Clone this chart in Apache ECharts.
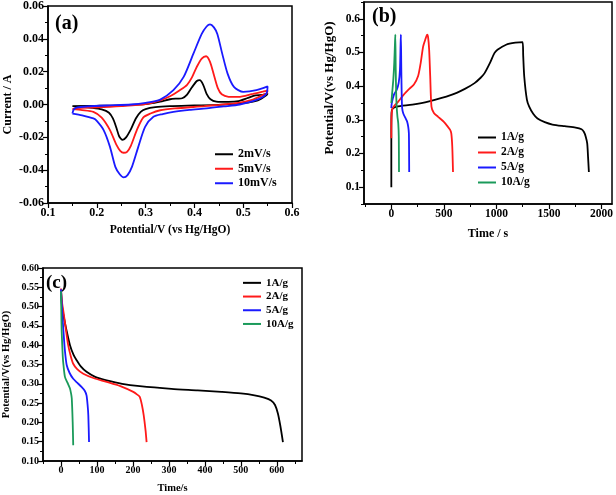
<!DOCTYPE html>
<html><head><meta charset="utf-8">
<script src="https://cdn.jsdelivr.net/npm/echarts@6/dist/echarts.min.js"></script>
<style>html,body{margin:0;padding:0;background:#fff}#c{width:616px;height:495px}</style>
</head><body><div id="c"></div>
<script>
// ---- Panel (a): CV curves [potential V, current A] ----
const cvNames = ['2mV/s', '5mV/s', '10mV/s'];
const cv2 = [[0.15,-0.0010],[0.20,-0.0008],[0.25,-0.0005],[0.30,0.0002],[0.33,0.0018],[0.35,0.0032],[0.365,0.0036],[0.375,0.0038],[0.385,0.0060],[0.395,0.0105],[0.405,0.0143],[0.411,0.0148],[0.418,0.0120],[0.425,0.0065],[0.433,0.0032],[0.445,0.0018],[0.47,0.0016],[0.49,0.0020],[0.51,0.0040],[0.525,0.0055],[0.54,0.0058],[0.55,0.0068],
  [0.548,0.0058],[0.53,0.0025],[0.50,0.0008],[0.45,-0.0002],[0.40,-0.0006],[0.35,-0.0010],[0.32,-0.0016],[0.30,-0.0028],[0.29,-0.0045],[0.28,-0.0085],[0.27,-0.0150],[0.26,-0.0200],[0.253,-0.0215],[0.246,-0.0195],[0.24,-0.0140],[0.233,-0.0085],[0.225,-0.0050],[0.21,-0.0030],[0.19,-0.0020],[0.17,-0.0014],[0.15,-0.0010]];
const cv5 = [[0.15,-0.0028],[0.16,-0.0022],[0.20,-0.0018],[0.25,-0.0010],[0.30,0.0002],[0.33,0.0025],[0.35,0.0050],[0.37,0.0087],[0.385,0.0120],[0.395,0.0165],[0.405,0.0230],[0.415,0.0280],[0.424,0.0294],[0.432,0.0260],[0.44,0.0180],[0.448,0.0100],[0.456,0.0062],[0.47,0.0047],[0.49,0.0046],[0.52,0.0065],[0.54,0.0078],[0.55,0.0085],
  [0.548,0.0068],[0.54,0.0057],[0.52,0.0030],[0.49,0.0010],[0.45,-0.0002],[0.42,-0.0010],[0.36,-0.0024],[0.33,-0.0035],[0.31,-0.0055],[0.295,-0.0080],[0.282,-0.0156],[0.27,-0.0250],[0.262,-0.0288],[0.255,-0.0294],[0.248,-0.0282],[0.24,-0.0245],[0.227,-0.0156],[0.21,-0.0080],[0.193,-0.0045],[0.17,-0.0034],[0.15,-0.0028]];
const cv10 = [[0.15,-0.0055],[0.153,-0.0030],[0.16,-0.0018],[0.18,-0.0012],[0.22,-0.0006],[0.27,0.0000],[0.30,0.0010],[0.33,0.0030],[0.357,0.0087],[0.378,0.0168],[0.398,0.0310],[0.415,0.0430],[0.425,0.0475],[0.432,0.0488],[0.44,0.0470],[0.447,0.0430],[0.457,0.0310],[0.468,0.0188],[0.481,0.0107],[0.50,0.0077],[0.527,0.0087],[0.55,0.0110],
  [0.548,0.0070],[0.54,0.0046],[0.52,0.0020],[0.493,0.0000],[0.46,-0.0012],[0.425,-0.0024],[0.39,-0.0033],[0.357,-0.0045],[0.335,-0.0058],[0.316,-0.0075],[0.299,-0.0136],[0.285,-0.0258],[0.272,-0.0380],[0.263,-0.0430],[0.255,-0.0444],[0.247,-0.0425],[0.238,-0.0380],[0.227,-0.0258],[0.214,-0.0156],[0.20,-0.0100],[0.193,-0.0085],[0.17,-0.0066],[0.15,-0.0055]];

// ---- Panel (b): GCD curves [time s, potential V] ----
const gcdNames = ['1A/g', '2A/g', '5A/g', '10A/g'];
const gcd1 = [[0,0.10],[0,0.25],[2,0.32],[10,0.332],[51,0.339],[200,0.345],[350,0.354],[571,0.374],[700,0.392],[792,0.409],[850,0.425],[886,0.438],[940,0.47],[981,0.498],[1010,0.508],[1092,0.523],[1180,0.529],[1249,0.531],[1255,0.49],[1265,0.428],[1290,0.36],[1312,0.339],[1350,0.318],[1391,0.304],[1460,0.293],[1533,0.286],[1650,0.281],[1754,0.277],[1810,0.272],[1833,0.264],[1850,0.25],[1864,0.23],[1872,0.19],[1880,0.145]];
const gcd2 = [[0,0.245],[2,0.31],[10,0.333],[30,0.342],[66,0.354],[110,0.372],[161,0.389],[215,0.405],[255,0.43],[280,0.47],[303,0.518],[325,0.54],[341,0.553],[350,0.545],[360,0.508],[370,0.43],[382,0.339],[405,0.32],[445,0.309],[500,0.294],[539,0.279],[560,0.27],[571,0.259],[580,0.22],[587,0.145]];
const gcd5 = [[0,0.335],[4,0.349],[25,0.375],[51,0.389],[70,0.41],[82,0.448],[88,0.52],[91,0.553],[95,0.45],[99,0.37],[103,0.335],[114,0.319],[135,0.305],[150,0.295],[161,0.279],[167,0.26],[169,0.2],[170,0.145]];
const gcd10 = [[0,0.35],[8,0.38],[19,0.42],[28,0.47],[35,0.53],[38,0.553],[42,0.45],[46,0.38],[51,0.339],[58,0.31],[66,0.289],[71,0.25],[73,0.145]];

// ---- Panel (c): discharge curves [time s, potential V] ----
const dis1 = [[0,0.542],[3,0.50],[7,0.477],[15,0.44],[25,0.40],[35,0.375],[43.5,0.361],[55,0.345],[71,0.331],[95,0.318],[127,0.309],[170,0.300],[219,0.294],[307,0.287],[380,0.283],[446,0.279],[500,0.275],[538,0.270],[565,0.264],[584,0.257],[595,0.245],[603,0.223],[610,0.19],[617,0.149]];
const dis2 = [[0,0.547],[3,0.51],[7,0.486],[13,0.445],[20,0.40],[27,0.372],[34,0.352],[45,0.338],[62,0.326],[90,0.315],[127,0.305],[165,0.294],[201,0.279],[212,0.272],[219,0.266],[225,0.245],[230,0.218],[235,0.18],[238,0.149]];
const dis5 = [[0,0.545],[3,0.49],[7,0.434],[11,0.385],[16,0.348],[24,0.328],[34,0.313],[45,0.303],[57,0.292],[66,0.282],[71,0.270],[74,0.245],[76,0.218],[78,0.149]];
const dis10 = [[0,0.54],[1,0.48],[2,0.434],[5,0.37],[7,0.348],[11,0.318],[18,0.303],[25,0.288],[28,0.275],[30,0.262],[32.5,0.201],[34,0.141]];

// ---- tick labels ----
const aXTicks = [0.1,0.2,0.3,0.4,0.5,0.6];
const aYTicks = [-0.06,-0.04,-0.02,0,0.02,0.04,0.06];
const bXTicks = [0,500,1000,1500,2000];
const bYTicks = [0.1,0.2,0.3,0.4,0.5,0.6];
const cXTicks = [0,100,200,300,400,500,600];
const cYTicks = [0.10,0.15,0.20,0.25,0.30,0.35,0.40,0.45,0.50,0.55,0.60];

const colors = ['#000000','#ff1a1a','#1a1aff','#1a9a5a'];
const FF = '"Liberation Serif", "Times New Roman", serif';

function mids(t){const r=[];for(let i=0;i<t.length-1;i++)r.push(+((t[i]+t[i+1])/2).toFixed(6));return r;}

function axisPair(dim, grid, min, max, majors, minors, fmt, name, nameGap, fs, ns, namePad){
  const main = {
    type:'value', gridIndex:grid, min:min, max:max,
    position: dim==='x'?'bottom':'left',
    axisLine:{show:true,onZero:false,lineStyle:{color:'#000',width:1.5}},
    axisTick:{show:true,inside:false,length:5,customValues:majors,lineStyle:{color:'#000',width:1.2}},
    axisLabel:{customValues:majors,formatter:fmt,color:'#000',fontFamily:FF,fontWeight:'bold',fontSize:fs,margin:4},
    splitLine:{show:false},
    name:name, nameLocation:'middle', nameGap:nameGap,
    nameTextStyle:{color:'#000',fontFamily:FF,fontWeight:'bold',fontSize:ns,padding:namePad||0}
  };
  const minor = {
    type:'value', gridIndex:grid, min:min, max:max,
    position: dim==='x'?'bottom':'left',
    axisLine:{show:false,onZero:false},
    axisTick:{show:true,inside:false,length:3,customValues:minors,lineStyle:{color:'#000',width:1}},
    axisLabel:{show:false}, splitLine:{show:false}
  };
  return [main, minor];
}

const xAxes = [].concat(
  axisPair('x',0,0.1,0.6,aXTicks,mids(aXTicks),v=>v.toFixed(1),'Potential/V (vs Hg/HgO)',21,12,11.5),
  axisPair('x',1,-260,2100,bXTicks,[-250,250,750,1250,1750],v=>String(Math.round(v)),'Time / s',24,11.5,12),
  axisPair('x',2,-50,670,cXTicks,[-50,50,150,250,350,450,550,650],v=>String(Math.round(v)),'Time/s',22,10,10.5)
);
const yAxes = [].concat(
  axisPair('y',0,-0.06,0.06,aYTicks,mids(aYTicks),v=>v.toFixed(2),'Current / A',34,12,12),
  axisPair('y',1,0.05,0.65,bYTicks,[0.05,0.15,0.25,0.35,0.45,0.55,0.65],v=>v.toFixed(1),'Potential/V(vs Hg/HgO)',28,11.5,13,[0,0,0,30]),
  axisPair('y',2,0.1,0.6,cYTicks,mids(cYTicks),v=>v.toFixed(2),'Potential/V(vs Hg/HgO)',31,10,10.5)
);

function ser(name, data, ci, axi){
  return {type:'line', name:name, data:data, xAxisIndex:axi, yAxisIndex:axi, showSymbol:false, symbol:'none',
    smooth:0.25, lineStyle:{color:colors[ci],width:1.8}, itemStyle:{color:colors[ci]}, silent:true, animation:false};
}

const series = [
  ser(cvNames[0],cv2,0,0), ser(cvNames[1],cv5,1,0), ser(cvNames[2],cv10,2,0),
  ser(gcdNames[0],gcd1,0,2), ser(gcdNames[1],gcd2,1,2), ser(gcdNames[2],gcd5,2,2), ser(gcdNames[3],gcd10,3,2),
  ser(gcdNames[0],dis1,0,4), ser(gcdNames[1],dis2,1,4), ser(gcdNames[2],dis5,2,4), ser(gcdNames[3],dis10,3,4)
];

function leg(data,left,top,lh,fs){
  return {data:data,left:left,top:top,padding:0,orient:'vertical',itemWidth:18,itemHeight:2,itemGap:0,icon:'rect',
    selectedMode:false,textStyle:{color:'#000',fontFamily:FF,fontWeight:'bold',fontSize:fs,lineHeight:lh}};
}

const chart = echarts.init(document.getElementById('c'));
chart.setOption({
  animation:false,
  backgroundColor:'#fff',
  grid:[
    {left:48,top:6,width:244,height:197,show:true,borderColor:'#000',borderWidth:1.5,backgroundColor:'transparent'},
    {left:364,top:2,width:249,height:202,show:true,borderColor:'#000',borderWidth:1.5,backgroundColor:'transparent'},
    {left:42,top:268,width:260,height:193,show:true,borderColor:'#000',borderWidth:1.5,backgroundColor:'transparent'}
  ],
  xAxis:xAxes, yAxis:yAxes,
  legend:[
    leg(cvNames,215,147,14.5,12),
    leg(gcdNames,478,130,15,11.5),
    leg(gcdNames,243,276,13.7,11)
  ],
  graphic:[
    {type:'text',left:55,top:14,style:{text:'(a)',font:'bold 20px '+FF,fill:'#000'}},
    {type:'text',left:372,top:7,style:{text:'(b)',font:'bold 20px '+FF,fill:'#000'}},
    {type:'text',left:46,top:274,style:{text:'(c)',font:'bold 19px '+FF,fill:'#000'}}
  ],
  series:series
});
</script></body></html>
